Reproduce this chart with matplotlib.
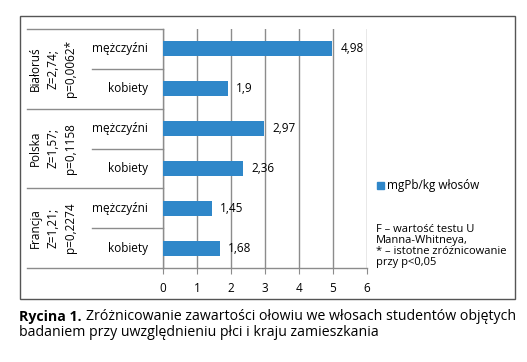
import matplotlib
matplotlib.use("Agg")
import matplotlib.pyplot as plt
import matplotlib.transforms as mtransforms
from matplotlib.patches import Rectangle
from matplotlib.lines import Line2D

plt.rcParams['font.family'] = ['Open Sans', 'DejaVu Sans']

countries = ["Białoruś\nZ=2,74;\np=0,0062*", "Polska\nZ=1,57;\np=0,1158", "Francja\nZ=1,21;\np=0,2274"]
sexes = ["mężczyźni", "kobiety"]
values = [4.98, 1.9, 2.97, 2.36, 1.45, 1.68]
value_labels = ["4,98", "1,9", "2,97", "2,36", "1,45", "1,68"]
xticks = [0, 1, 2, 3, 4, 5, 6]
legend_label = "mgPb/kg włosów"
note_lines = ["F – wartość testu U", "Manna-Whitneya,", "* – istotne zróżnicowanie", "przy p<0,05"]
caption_bold = "Rycina 1."
caption_1 = "Zróżnicowanie zawartości ołowiu we włosach studentów objętych"
caption_2 = "badaniem przy uwzględnieniu płci i kraju zamieszkania"

W, H = 527, 362
fig = plt.figure(figsize=(W/100, H/100), dpi=100)
def fx(px): return px / W
def fy(py): return 1 - py / H

ax = fig.add_axes([fx(163), fy(268), fx(367) - fx(163), fy(29) - fy(268)])
bar_color = "#2F87C9"
grid_color = "#8C8C8C"
n = len(values)
ypos = list(range(n))
ax.barh(ypos, values, height=0.38, color=bar_color, zorder=3)
ax.set_ylim(n - 0.5, -0.5)
ax.set_xlim(0, 6)
ax.set_xticks(xticks)
ax.set_xticklabels([str(t) for t in xticks], fontsize=8.5)
ax.set_yticks([])
for s in ["top", "right"]:
    ax.spines[s].set_visible(False)
for s in ["left", "bottom"]:
    ax.spines[s].set_color(grid_color)
    ax.spines[s].set_linewidth(1)
ax.tick_params(axis='x', length=4, color=grid_color, pad=6)
ax.grid(axis='x', color=grid_color, linewidth=1, zorder=0)

for y, v, lab in zip(ypos, values, value_labels):
    ax.annotate(lab, (v, y), xytext=(8, 0), textcoords='offset pixels',
                va='center', ha='left', fontsize=8.5)

trans = mtransforms.blended_transform_factory(ax.transAxes, ax.transData)
ax_w = 367 - 163
x_country = (27 - 163) / ax_w
x_sex = (92 - 163) / ax_w
for i in range(n + 1):
    yb = i - 0.5
    xs = x_country if i % 2 == 0 else x_sex
    ax.add_line(Line2D([xs, 0], [yb, yb], transform=trans, color=grid_color,
                       linewidth=1, clip_on=False))

for i in range(n):
    ax.text((148 - 163) / ax_w, i, sexes[i % 2], transform=trans,
            ha='right', va='center', fontsize=8.5)

for j, c in enumerate(countries):
    ax.text((53 - 163) / ax_w, 2 * j + 0.5, c, transform=trans, rotation=90,
            ha='center', va='center', fontsize=8.5, linespacing=1.5,
            multialignment='center')

# outer box
fig.patches.append(Rectangle((fx(20), fy(299)), fx(515) - fx(20), fy(16) - fy(299),
                             transform=fig.transFigure, fill=False,
                             edgecolor="#555555", linewidth=1))

# legend
fig.patches.append(Rectangle((fx(377), fy(188.5)), fx(7), fy(181.5) - fy(188.5),
                             transform=fig.transFigure, color=bar_color))
fig.text(fx(387), fy(185), legend_label, ha='left', va='center', fontsize=8.5)
for k, line in enumerate(note_lines):
    fig.text(fx(376), fy(232 + 11 * k), line, ha='left', va='baseline', fontsize=8)

# caption
cap_fs = 10.2
tb = fig.text(fx(19), fy(317), caption_bold, fontweight='bold', ha='left', va='center', fontsize=cap_fs)
fig.canvas.draw()
ext = tb.get_window_extent(renderer=fig.canvas.get_renderer())
fig.text((ext.x1 + 4) / W, fy(317), caption_1, ha='left', va='center', fontsize=cap_fs)
fig.text(fx(19), fy(333), caption_2, ha='left', va='center', fontsize=cap_fs)

fig.savefig("out.png", dpi=100)
